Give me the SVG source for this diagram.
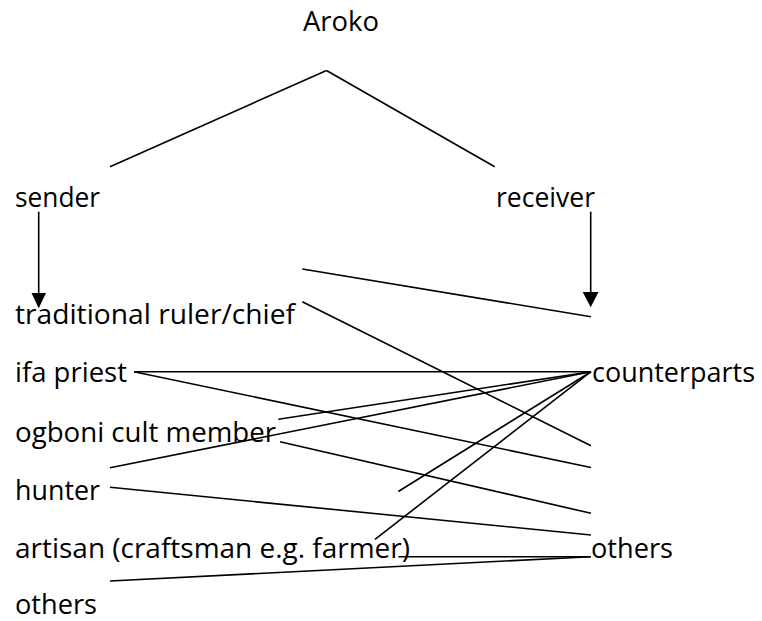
<svg xmlns="http://www.w3.org/2000/svg" width="762" height="621" viewBox="0 0 762 621">
<style>
text{font-family:"Open Sans","Noto Sans","Liberation Sans",sans-serif;font-size:27px;fill:#000}
line{stroke:#000;stroke-width:1.6;fill:none}
.head{fill:#000;stroke:none}
</style>
<rect width="762" height="621" fill="#fff"/>
<g id="node-aroko"><text x="303" y="31" textLength="76" lengthAdjust="spacingAndGlyphs">Aroko</text></g>
<g id="node-sender"><text x="15" y="207" textLength="85" lengthAdjust="spacingAndGlyphs">sender</text></g>
<g id="node-receiver"><text x="496" y="207" textLength="99" lengthAdjust="spacingAndGlyphs">receiver</text></g>
<g id="node-ruler"><text x="15" y="324" textLength="280" lengthAdjust="spacingAndGlyphs">traditional ruler/chief</text></g>
<g id="node-ifa"><text x="15" y="382" textLength="112" lengthAdjust="spacingAndGlyphs">ifa priest</text></g>
<g id="node-ogboni"><text x="15" y="442" textLength="261" lengthAdjust="spacingAndGlyphs">ogboni cult member</text></g>
<g id="node-hunter"><text x="15" y="500" textLength="85" lengthAdjust="spacingAndGlyphs">hunter</text></g>
<g id="node-artisan"><text x="15" y="558" textLength="395" lengthAdjust="spacingAndGlyphs">artisan (craftsman e.g. farmer)</text></g>
<g id="node-others-left"><text x="15" y="614" textLength="82" lengthAdjust="spacingAndGlyphs">others</text></g>
<g id="node-counterparts"><text x="592" y="382" textLength="163" lengthAdjust="spacingAndGlyphs">counterparts</text></g>
<g id="node-others-right"><text x="591" y="558" textLength="82" lengthAdjust="spacingAndGlyphs">others</text></g>
<g id="connectors">
<line x1="110" y1="166.7" x2="326.5" y2="70.5"/>
<line x1="326.5" y1="70.5" x2="494.7" y2="166.7"/>
<line x1="38.7" y1="211.7" x2="38.7" y2="294"/>
<polygon class="head" points="31.5,293 46,293 38.7,308.3"/>
<line x1="590.7" y1="211.7" x2="590.7" y2="293"/>
<polygon class="head" points="582.7,292 598.5,292 590.7,307.3"/>
<line x1="302.3" y1="269" x2="591" y2="316.7"/>
<line x1="302.3" y1="301.7" x2="591" y2="445.7"/>
<line x1="134" y1="371.7" x2="591" y2="371.7"/>
<line x1="134" y1="371.7" x2="591" y2="467.5"/>
<line x1="280" y1="441.7" x2="591" y2="513.3"/>
<line x1="110" y1="487.3" x2="591" y2="535"/>
<line x1="278.3" y1="419.3" x2="591" y2="371.7"/>
<line x1="110" y1="467.7" x2="591" y2="371.7"/>
<line x1="398.3" y1="491.5" x2="591" y2="371.7"/>
<line x1="375" y1="539.3" x2="591" y2="371.7"/>
<line x1="398.3" y1="556.7" x2="591" y2="556.7"/>
<line x1="110" y1="581" x2="591" y2="556.7"/>
</g>
</svg>
